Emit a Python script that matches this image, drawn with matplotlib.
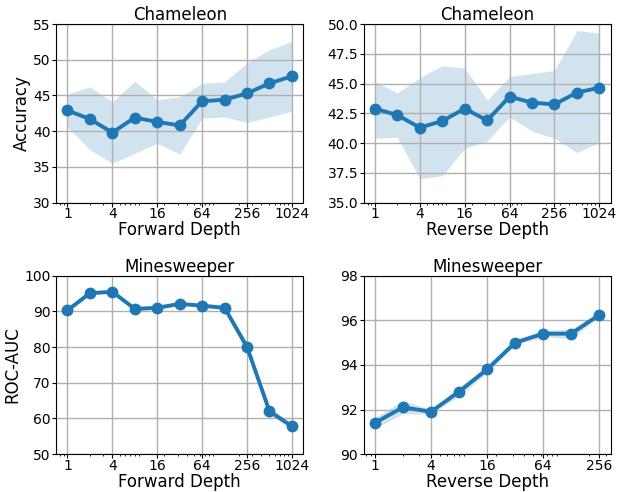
import matplotlib
matplotlib.use('Agg')
import matplotlib.pyplot as plt
from matplotlib.ticker import MultipleLocator, NullFormatter, FormatStrFormatter
import numpy as np

depth_long = [1, 2, 4, 8, 16, 32, 64, 128, 256, 512, 1024]
depth_short = [1, 2, 4, 8, 16, 32, 64, 128, 256]

# Chameleon, forward depth
cham_fwd = [42.9, 41.7, 39.8, 41.9, 41.3, 40.8, 44.2, 44.4, 45.3, 46.7, 47.7]
cham_fwd_hi = [45.2, 46.2, 44.1, 47.0, 44.4, 44.8, 46.7, 46.9, 49.6, 51.4, 52.6]
cham_fwd_lo = [40.6, 37.4, 35.5, 36.9, 38.3, 36.8, 41.8, 42.0, 41.2, 42.0, 42.8]

# Chameleon, reverse depth
cham_rev = [42.9, 42.35, 41.3, 41.85, 42.9, 41.9, 43.9, 43.4, 43.25, 44.25, 44.65]
cham_rev_hi = [45.2, 44.2, 45.5, 46.5, 46.3, 43.6, 45.6, 45.85, 46.1, 49.45, 49.25]
cham_rev_lo = [40.4, 40.5, 37.0, 37.25, 39.55, 40.15, 42.2, 41.0, 40.4, 39.2, 40.05]

# Minesweeper, forward depth
mine_fwd = [90.3, 95.1, 95.5, 90.7, 91.0, 92.1, 91.6, 91.0, 80.0, 62.0, 57.8]
mine_fwd_err = [0.5, 0.4, 0.4, 0.5, 0.4, 0.4, 0.4, 0.5, 1.4, 1.0, 0.8]

# Minesweeper, reverse depth
mine_rev = [91.4, 92.1, 91.9, 92.8, 93.8, 95.0, 95.4, 95.4, 96.25]
mine_rev_err = [0.25, 0.3, 0.1, 0.2, 0.15, 0.1, 0.15, 0.2, 0.1]

c = '#1f77b4'

fig, axs = plt.subplots(2, 2, figsize=(6.18, 4.92), dpi=100)
plt.subplots_adjust(left=0.091, right=0.988, top=0.951, bottom=0.077, wspace=0.245, hspace=0.41)


def panel(ax, x, y, lo, hi, title, xlabel, ylabel, ylim, xticks, ystep):
    ax.fill_between(x, lo, hi, color=c, alpha=0.2, linewidth=0)
    ax.plot(x, y, color=c, linewidth=2.8, marker='o', markersize=7.5)
    ax.set_xscale('log')
    ax.set_xticks(xticks)
    ax.set_xticklabels([str(t) for t in xticks])
    ax.xaxis.set_minor_formatter(NullFormatter())
    ax.set_ylim(*ylim)
    ax.yaxis.set_major_locator(MultipleLocator(ystep))
    if ystep == 2.5:
        ax.yaxis.set_major_formatter(FormatStrFormatter('%.1f'))
    ax.set_title(title, fontsize=12, pad=3)
    ax.set_xlabel(xlabel, fontsize=12, labelpad=0)
    if ylabel:
        ax.set_ylabel(ylabel, fontsize=12, labelpad=2)
    ax.tick_params(labelsize=10, length=3, pad=1)
    ax.tick_params(axis='x', pad=0.5)
    ax.tick_params(which='minor', length=1.5)
    ax.grid(True, color='#b0b0b0', linewidth=1)


panel(axs[0, 0], depth_long, cham_fwd, cham_fwd_lo, cham_fwd_hi,
      'Chameleon', 'Forward Depth', 'Accuracy', (30, 55), [1, 4, 16, 64, 256, 1024], 5)
panel(axs[0, 1], depth_long, cham_rev, cham_rev_lo, cham_rev_hi,
      'Chameleon', 'Reverse Depth', None, (35, 50), [1, 4, 16, 64, 256, 1024], 2.5)

mf = np.array(mine_fwd)
mfe = np.array(mine_fwd_err)
panel(axs[1, 0], depth_long, mf, mf - mfe, mf + mfe,
      'Minesweeper', 'Forward Depth', 'ROC-AUC', (50, 100), [1, 4, 16, 64, 256, 1024], 10)
mr = np.array(mine_rev)
mre = np.array(mine_rev_err)
panel(axs[1, 1], depth_short, mr, mr - mre, mr + mre,
      'Minesweeper', 'Reverse Depth', None, (90, 98), [1, 4, 16, 64, 256], 2)

fig.savefig('out.png', dpi=100)
